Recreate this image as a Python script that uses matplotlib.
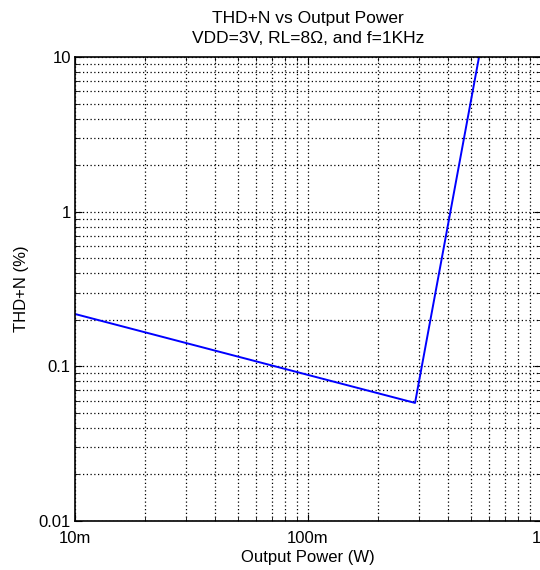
import matplotlib.pyplot as plt
import matplotlib.transforms as mtransforms
from matplotlib.ticker import LogLocator, FixedLocator, NullFormatter

plt.rcParams['font.family'] = ['Liberation Sans', 'DejaVu Sans']

power = [0.01, 0.288, 0.542]
thdn = [0.218, 0.058, 10.0]

x_ticks = [0.01, 0.1, 1]
x_labels = ['10m', '100m', '1']
y_ticks = [0.01, 0.1, 1, 10]
y_labels = ['0.01', '0.1', '1', '10']

fig = plt.figure(figsize=(5.4, 5.7), dpi=100)
ax = fig.add_axes([75 / 540, 1 - 521 / 570, 466 / 540, 464 / 570])

ax.plot(power, thdn, color='#0000ff', linewidth=1.4)

ax.set_xscale('log')
ax.set_yscale('log')
ax.set_xlim(0.01, 1)
ax.set_ylim(0.01, 10)

ax.xaxis.set_major_locator(FixedLocator(x_ticks))
ax.set_xticklabels(x_labels)
ax.yaxis.set_major_locator(FixedLocator(y_ticks))
ax.set_yticklabels(y_labels)
ax.xaxis.set_minor_locator(LogLocator(base=10, subs=range(2, 10)))
ax.yaxis.set_minor_locator(LogLocator(base=10, subs=range(2, 10)))
ax.xaxis.set_minor_formatter(NullFormatter())
ax.yaxis.set_minor_formatter(NullFormatter())

ax.tick_params(which='both', direction='in', top=True, right=True,
               labelsize=12)
ax.tick_params(axis='x', pad=7)
ax.tick_params(axis='y', pad=3)
ax.tick_params(which='major', length=5)
ax.tick_params(which='minor', length=3)
ax.grid(True, which='both', color='black', linestyle=(0, (1, 2)), linewidth=0.9)

# nudge the last x label so it stays inside the figure
last = ax.get_xticklabels()[-1]
last.set_transform(last.get_transform() +
                   mtransforms.ScaledTranslation(-5 / 100, 0, fig.dpi_scale_trans))

for s in ax.spines.values():
    s.set_linewidth(1.2)

ax.set_title('THD+N vs Output Power\nVDD=3V, RL=8\u03a9, and f=1KHz',
             fontsize=12.5, pad=10, linespacing=1.45)
ax.set_xlabel('Output Power (W)', fontsize=12, labelpad=3)
ax.set_ylabel('THD+N (%)', fontsize=12, labelpad=7)

fig.savefig('out.png', dpi=100)
